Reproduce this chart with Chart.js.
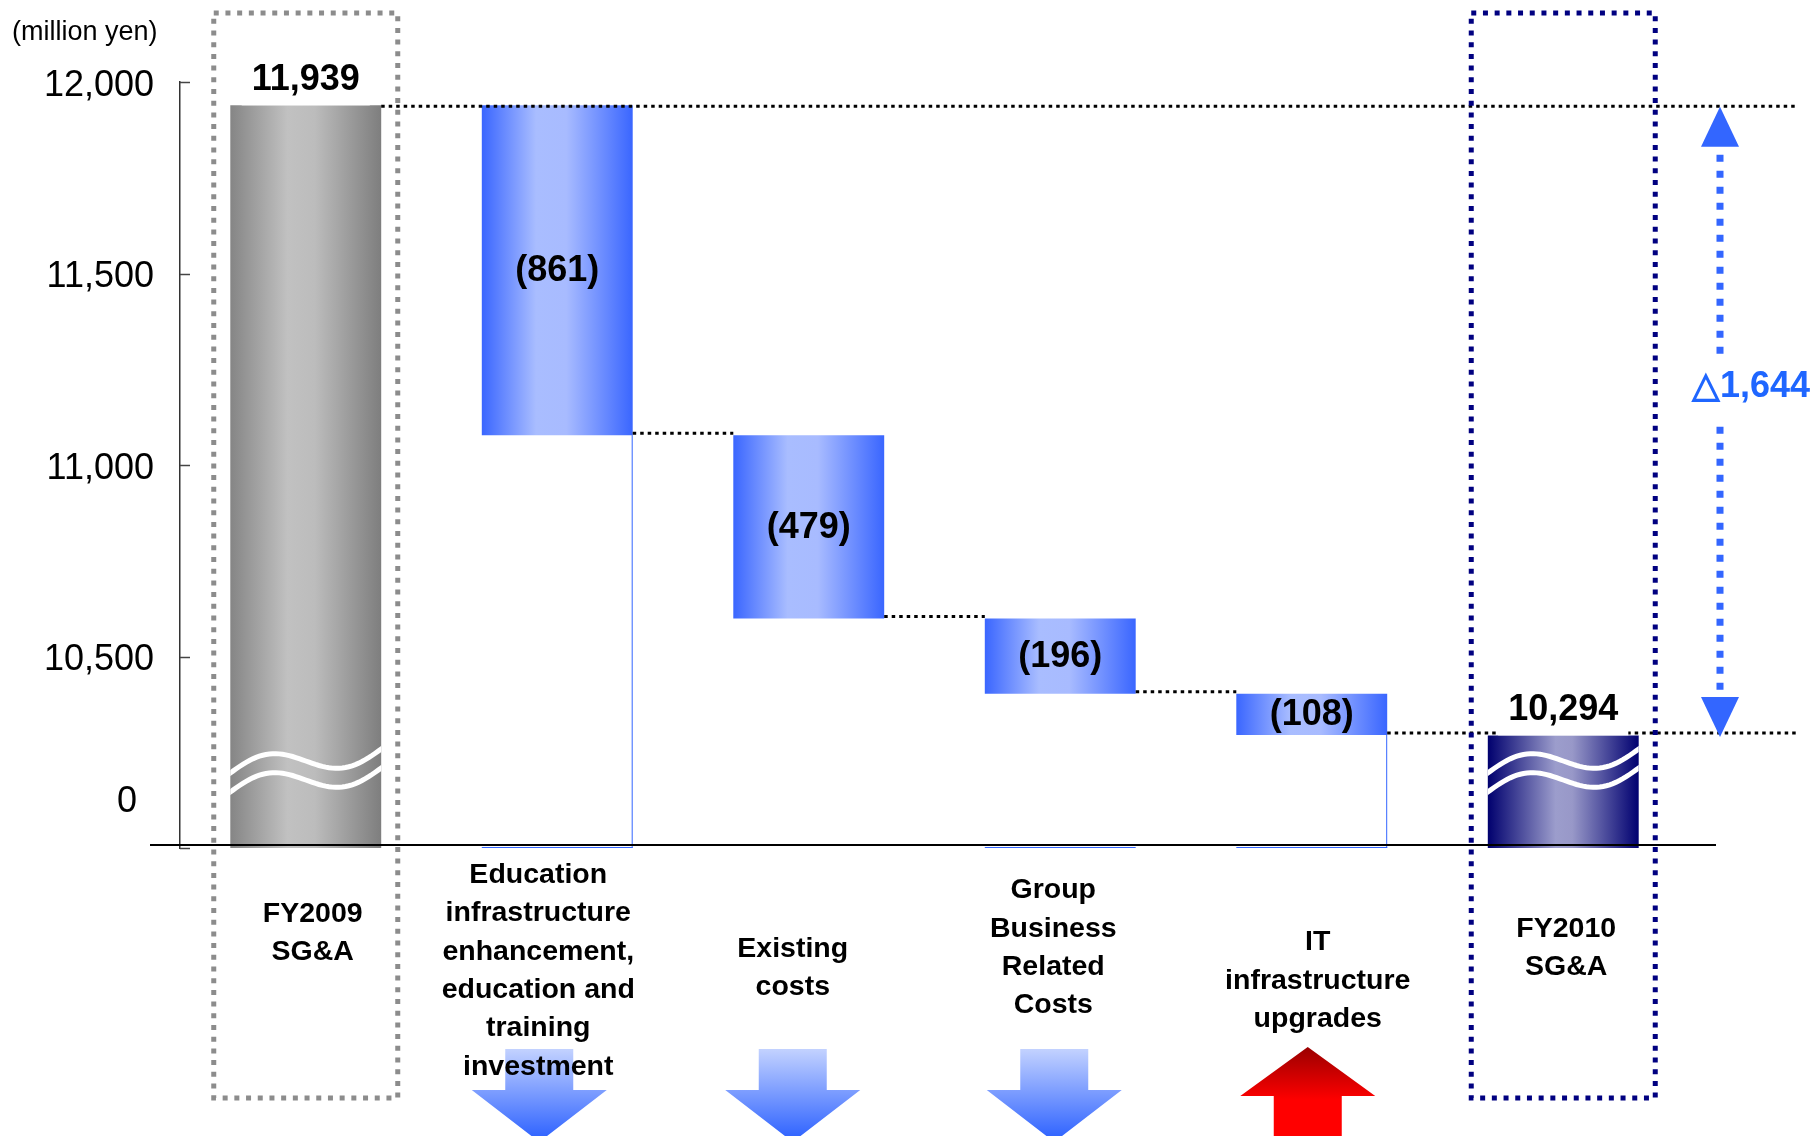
<!DOCTYPE html>
<html>
<head>
<meta charset="utf-8">
<title>SG&amp;A FY2009 - FY2010</title>
<script src="https://cdn.jsdelivr.net/npm/chart.js@4.4.1/dist/chart.umd.min.js"></script>
<style>
  html, body { margin: 0; padding: 0; background: #fff; }
  canvas { display: block; }
</style>
</head>
<body>
<canvas id="sgaChart" width="1820" height="1136"></canvas>
<script>
// Categories along the bottom
const categories = [
  ['FY2009', 'SG&A'],
  ['Education', 'infrastructure', 'enhancement,', 'education and', 'training', 'investment'],
  ['Existing', 'costs'],
  ['Group', 'Business', 'Related', 'Costs'],
  ['IT', 'infrastructure', 'upgrades'],
  ['FY2010', 'SG&A']
];

// Values in million yen
const startTotal = 11939;
const changes = [-861, -479, -196, -108];
const endTotal = 10294;
const arrowDirs = ['down', 'down', 'down', 'up'];

// y axis is broken at the bottom: the floor is labelled 0
const axisFloor = 10000;
const axisTop = 12000;
const yTicks = [10000, 10500, 11000, 11500, 12000];

// layout of the hand placed bits (offsets in px)
const labelPlace = [
  { dx: 7, dy: 85 }, { dx: -19, dy: 123 }, { dx: -16, dy: 120 },
  { dx: -7, dy: 100 }, { dx: 6, dy: 133 }, { dx: 3, dy: 100 }
];
const arrowDx = [-18, -16, -6, -4];
const outlineSides = ['', 'rb', '', 'b', 'rb', ''];

const FONT = '"Liberation Sans", Arial, sans-serif';

// running levels after each change
const levels = [startTotal];
changes.forEach(c => levels.push(levels[levels.length - 1] + c));

// floating bars [low, high]
const bars = [[axisFloor, startTotal]];
changes.forEach((c, i) => bars.push([levels[i + 1], levels[i]]));
bars.push([axisFloor, endTotal]);

const totalChange = changes.reduce((a, b) => a + b, 0);

const greyStops = [[0, '#858585'], [0.38, '#c1c1c1'], [0.56, '#bcbcbc'], [1, '#7e7e7e']];
const blueStops = [[0, '#3a66ff'], [0.36, '#a9bdff'], [0.56, '#a8bbff'], [1, '#3a66ff']];
const navyStops = [[0, '#00006e'], [0.45, '#9c9dcc'], [0.56, '#9898c8'], [1, '#000070']];

function barFill(c) {
  const chart = c.chart;
  const xs = chart.scales.x;
  if (!xs || !chart.chartArea) return '#3a66ff';
  const w = (xs.width / categories.length) * 0.6;
  const cx = xs.getPixelForValue(c.dataIndex);
  const g = chart.ctx.createLinearGradient(cx - w / 2, 0, cx + w / 2, 0);
  const last = categories.length - 1;
  const stops = c.dataIndex === 0 ? greyStops : (c.dataIndex === last ? navyStops : blueStops);
  stops.forEach(s => g.addColorStop(s[0], s[1]));
  return g;
}

// everything drawn around the bars
const bridgeDecor = {
  id: 'bridgeDecor',
  afterDatasetsDraw(chart) {
    const { ctx, chartArea: area, scales: { x, y } } = chart;
    const els = chart.getDatasetMeta(0).data;
    const last = els.length - 1;
    const floorY = y.getPixelForValue(axisFloor);
    const edges = i => ({ l: els[i].x - els[i].width / 2, r: els[i].x + els[i].width / 2 });

    ctx.save();

    // thin outline of the hidden base under some change bars
    ctx.strokeStyle = '#3366ff';
    ctx.lineWidth = 1;
    outlineSides.forEach((s, i) => {
      if (!s) return;
      const { l, r } = edges(i);
      const low = y.getPixelForValue(Math.min(...bars[i]));
      ctx.beginPath();
      if (s.includes('r')) { ctx.moveTo(r - 0.5, low); ctx.lineTo(r - 0.5, floorY); }
      if (s.includes('b')) { ctx.moveTo(l, floorY - 0.5); ctx.lineTo(r, floorY - 0.5); }
      ctx.stroke();
    });

    // break marks on the two totals
    [0, last].forEach(i => {
      const { l, r } = edges(i);
      const top = els[i].y;
      ctx.save();
      ctx.beginPath();
      ctx.rect(l, top, r - l, floorY - top + 2);
      ctx.clip();
      ctx.strokeStyle = '#fff';
      ctx.lineWidth = 5;
      [0, 19].forEach(off => {
        ctx.beginPath();
        for (let k = 0; k <= 48; k++) {
          const t = k / 48;
          const px = l - 4 + (r - l + 8) * t;
          const py = floorY - 72 - 30 * t - 14 * Math.sin(2 * Math.PI * t) + off;
          if (k === 0) ctx.moveTo(px, py); else ctx.lineTo(px, py);
        }
        ctx.stroke();
      });
      ctx.restore();
    });

    // base line
    ctx.strokeStyle = '#000';
    ctx.lineWidth = 2;
    ctx.beginPath();
    ctx.moveTo(area.left - 30, floorY - 3);
    ctx.lineTo(area.right + 27, floorY - 3);
    ctx.stroke();

    // inner tick marks on the y axis
    ctx.strokeStyle = '#444';
    ctx.lineWidth = 1.5;
    yTicks.forEach(v => {
      const py = Math.round(y.getPixelForValue(v)) + 0.5;
      ctx.beginPath();
      ctx.moveTo(area.left, py);
      ctx.lineTo(area.left + 10, py);
      ctx.stroke();
    });

    // dotted connectors between bars
    ctx.strokeStyle = '#000';
    ctx.lineWidth = 3;
    ctx.setLineDash([3.5, 4]);
    const farRight = area.right + 108;
    for (let i = 0; i < last; i++) {
      const py = y.getPixelForValue(levels[i]) + (i === 0 ? 1 : -2);
      const x0 = edges(i).r;
      const x1 = (i === 0 || i === last - 1) ? farRight : edges(i + 1).l;
      ctx.beginPath();
      ctx.moveTo(x0, py);
      ctx.lineTo(x1, py);
      ctx.stroke();
    }
    ctx.setLineDash([]);

    // totals above their bars
    ctx.font = 'bold 36px ' + FONT;
    ctx.textAlign = 'center';
    [[0, startTotal], [last, endTotal]].forEach(([i, val]) => {
      const txt = val.toLocaleString('en-US');
      const by = els[i].y - 15;
      const w = ctx.measureText(txt).width;
      ctx.fillStyle = '#fff';
      ctx.fillRect(els[i].x - w / 2 - 10, by - 32, w + 20, els[i].y - (by - 32));
      ctx.fillStyle = '#000';
      ctx.textBaseline = 'alphabetic';
      ctx.fillText(txt, els[i].x, by);
    });

    // changes inside their bars
    ctx.textBaseline = 'middle';
    changes.forEach((c, k) => {
      const el = els[k + 1];
      const mid = (el.y + el.base) / 2;
      ctx.fillText('(' + Math.abs(c).toLocaleString('en-US') + ')', el.x, mid + 1);
    });

    // dotted frames round the totals
    ctx.lineWidth = 5;
    ctx.setLineDash([5, 6.7]);
    [[0, '#8c8c8c'], [last, '#000080']].forEach(([i, col]) => {
      ctx.strokeStyle = col;
      ctx.strokeRect(els[i].x - 92, 13, 184, 1085);
    });
    ctx.setLineDash([]);

    // total change arrow on the right
    const ax = area.right + 31;
    const yTop = y.getPixelForValue(startTotal) + 1.5;
    const yBot = y.getPixelForValue(endTotal) + 1.5;
    ctx.fillStyle = '#3366ff';
    ctx.beginPath();
    ctx.moveTo(ax, yTop); ctx.lineTo(ax + 19, yTop + 40); ctx.lineTo(ax - 19, yTop + 40);
    ctx.closePath(); ctx.fill();
    ctx.beginPath();
    ctx.moveTo(ax, yBot); ctx.lineTo(ax + 19, yBot - 40); ctx.lineTo(ax - 19, yBot - 40);
    ctx.closePath(); ctx.fill();
    ctx.strokeStyle = '#3366ff';
    ctx.lineWidth = 7;
    ctx.setLineDash([7, 9]);
    ctx.beginPath();
    ctx.moveTo(ax, yTop + 48);
    ctx.lineTo(ax, yBot - 42);
    ctx.stroke();
    ctx.setLineDash([]);
    const cyDelta = (yTop + yBot) / 2 - 35;
    ctx.fillStyle = '#fff';
    ctx.fillRect(ax - 12, cyDelta - 30, 24, 66);
    ctx.fillStyle = '#1f66ff';
    ctx.font = 'bold 36px ' + FONT;
    ctx.textAlign = 'center';
    ctx.fillText('\u25B3' + Math.abs(totalChange).toLocaleString('en-US'), ax + 31, cyDelta);

    // direction arrows under the change categories
    arrowDirs.forEach((dir, k) => {
      const cx = x.getPixelForValue(k + 1) + arrowDx[k];
      ctx.beginPath();
      if (dir === 'down') {
        const st = floorY + 201, ht = floorY + 242, tip = floorY + 294;
        const g = ctx.createLinearGradient(0, st, 0, floorY + 288);
        g.addColorStop(0, '#c3d2ff');
        g.addColorStop(1, '#3366ff');
        ctx.fillStyle = g;
        ctx.moveTo(cx - 34, st); ctx.lineTo(cx + 34, st); ctx.lineTo(cx + 34, ht);
        ctx.lineTo(cx + 67.5, ht); ctx.lineTo(cx, tip); ctx.lineTo(cx - 67.5, ht);
        ctx.lineTo(cx - 34, ht);
      } else {
        const tip = floorY + 199, hb = floorY + 248, end = floorY + 300;
        const g = ctx.createLinearGradient(0, tip, 0, floorY + 288);
        g.addColorStop(0, '#9a0000');
        g.addColorStop(0.6, '#ff0000');
        g.addColorStop(1, '#ff0000');
        ctx.fillStyle = g;
        ctx.moveTo(cx, tip); ctx.lineTo(cx + 67.5, hb); ctx.lineTo(cx + 34, hb);
        ctx.lineTo(cx + 34, end); ctx.lineTo(cx - 34, end); ctx.lineTo(cx - 34, hb);
        ctx.lineTo(cx - 67.5, hb);
      }
      ctx.closePath();
      ctx.fill();
    });

    // category labels
    ctx.font = 'bold 28.5px ' + FONT;
    ctx.fillStyle = '#000';
    ctx.textAlign = 'center';
    ctx.textBaseline = 'middle';
    categories.forEach((lines, i) => {
      const cx = x.getPixelForValue(i) + labelPlace[i].dx;
      const cy = floorY + labelPlace[i].dy;
      lines.forEach((t, k) => ctx.fillText(t, cx, cy + (k - (lines.length - 1) / 2) * 38.4));
    });

    // unit and the broken axis floor
    ctx.font = '27px ' + FONT;
    ctx.textAlign = 'left';
    ctx.fillText('(million yen)', 12, 33);
    ctx.font = '36px ' + FONT;
    ctx.textAlign = 'right';
    ctx.fillText('0', area.left - 43, floorY - 46);

    ctx.restore();
  }
};

new Chart(document.getElementById('sgaChart'), {
  type: 'bar',
  data: {
    labels: categories,
    datasets: [{
      data: bars,
      backgroundColor: barFill,
      borderWidth: 0,
      barPercentage: 0.75,
      categoryPercentage: 0.8
    }]
  },
  options: {
    responsive: false,
    animation: false,
    devicePixelRatio: 1,
    events: [],
    layout: { padding: { left: 0, right: 131, top: 82, bottom: 288 } },
    plugins: { legend: { display: false }, tooltip: { enabled: false } },
    scales: {
      x: { display: false },
      y: {
        min: axisFloor,
        max: axisTop,
        afterBuildTicks: s => { s.ticks = yTicks.map(v => ({ value: v })); },
        afterFit: s => { s.width = 180; },
        ticks: {
          callback: v => (v === axisFloor ? '' : v.toLocaleString('en-US')),
          font: { family: FONT, size: 36 },
          color: '#000',
          padding: 26,
          labelOffset: 4
        },
        grid: { display: true, drawOnChartArea: false, drawTicks: false },
        border: { display: true, color: '#333', width: 1.5 }
      }
    }
  },
  plugins: [bridgeDecor]
});
</script>
</body>
</html>
